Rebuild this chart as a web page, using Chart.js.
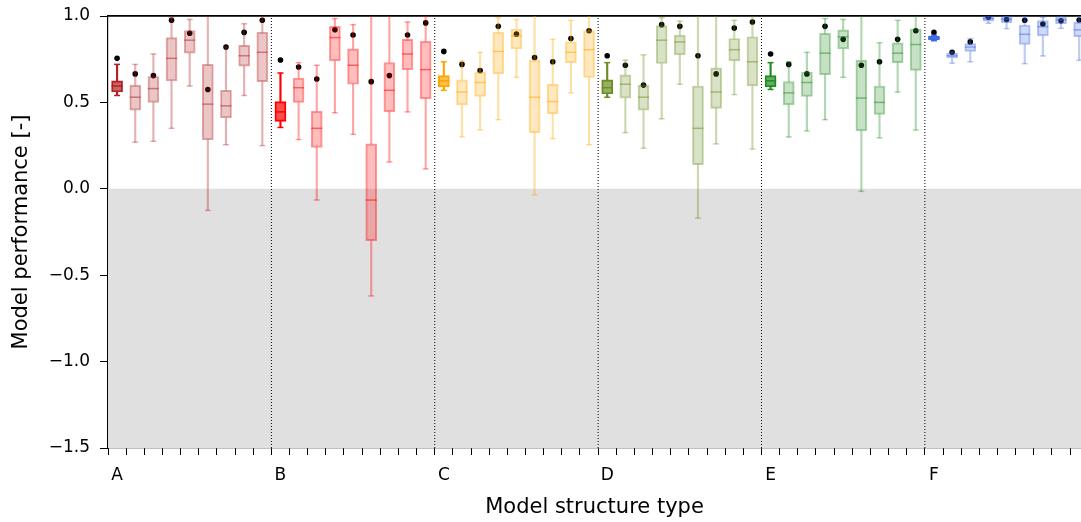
<!DOCTYPE html>
<html>
<head>
<meta charset="utf-8">
<script src="https://cdn.jsdelivr.net/npm/chart.js@4/dist/chart.umd.min.js"></script>
<style>
  html, body { margin: 0; padding: 0; background: #fff; }
  canvas { display: block; }
</style>
</head>
<body>
<canvas id="chart" width="1081" height="522"></canvas>
<script>
// ============================
// data (9 model runs per structure type)
const groups = ["A", "B", "C", "D", "E", "F"];
const perGroup = 9;
const groupColors = ["#b22222", "#ff0000", "#ffa500", "#6b8e23", "#228b22", "#4169e1"];

const whiskerLow = [
  0.54, 0.27, 0.275, 0.35, 0.595, -0.125, 0.255, 0.54, 0.25,    // A
  0.355, 0.285, -0.065, 0.44, 0.315, -0.62, 0.155, 0.445, 0.115, // B
  0.57, 0.30, 0.34, 0.40, 0.645, -0.035, 0.29, 0.555, 0.255,     // C
  0.53, 0.325, 0.235, 0.405, 0.605, -0.17, 0.26, 0.545, 0.23,    // D
  0.575, 0.30, 0.335, 0.40, 0.645, -0.015, 0.295, 0.56, 0.34,    // E
  0.857, 0.727, 0.735, 0.958, 0.927, 0.724, 0.769, 0.929, 0.744  // F
];
const q1 = [
  0.56, 0.455, 0.50, 0.625, 0.785, 0.285, 0.41, 0.71, 0.62,
  0.39, 0.50, 0.24, 0.74, 0.605, -0.30, 0.445, 0.69, 0.52,
  0.59, 0.485, 0.535, 0.665, 0.81, 0.325, 0.435, 0.73, 0.645,
  0.55, 0.525, 0.455, 0.725, 0.775, 0.14, 0.465, 0.74, 0.595,
  0.59, 0.485, 0.535, 0.66, 0.81, 0.335, 0.43, 0.73, 0.685,
  0.862, 0.757, 0.795, 0.97, 0.961, 0.836, 0.885, 0.956, 0.88
];
const median = [
  0.595, 0.53, 0.58, 0.755, 0.86, 0.49, 0.48, 0.77, 0.79,
  0.445, 0.585, 0.35, 0.875, 0.715, -0.065, 0.57, 0.78, 0.69,
  0.625, 0.56, 0.615, 0.795, 0.885, 0.53, 0.505, 0.79, 0.805,
  0.585, 0.605, 0.53, 0.86, 0.85, 0.35, 0.56, 0.805, 0.735,
  0.625, 0.555, 0.615, 0.785, 0.88, 0.525, 0.50, 0.785, 0.835,
  0.873, 0.77, 0.82, 0.985, 0.981, 0.894, 0.938, 0.977, 0.92
];
const q3 = [
  0.625, 0.60, 0.65, 0.875, 0.915, 0.72, 0.57, 0.83, 0.905,
  0.505, 0.64, 0.45, 0.94, 0.81, 0.26, 0.73, 0.865, 0.855,
  0.655, 0.63, 0.675, 0.905, 0.925, 0.745, 0.605, 0.85, 0.915,
  0.63, 0.66, 0.60, 0.945, 0.89, 0.595, 0.70, 0.87, 0.88,
  0.655, 0.62, 0.675, 0.90, 0.92, 0.745, 0.595, 0.845, 0.925,
  0.884, 0.786, 0.84, 0.997, 0.996, 0.947, 0.973, 0.994, 0.965
];
const whiskerHigh = [
  0.72, 0.72, 0.78, 0.99, 0.98, 1.05, 0.82, 0.955, 1.0,
  0.67, 0.73, 0.715, 0.985, 0.95, 1.05, 1.05, 0.965, 1.0,
  0.735, 0.74, 0.79, 0.99, 0.98, 1.05, 0.865, 0.975, 1.05,
  0.73, 0.745, 0.775, 0.99, 0.97, 1.05, 1.05, 0.975, 1.05,
  0.73, 0.735, 0.79, 0.985, 0.98, 1.05, 0.845, 0.975, 1.05,
  0.888, 0.792, 0.87, 1.0, 1.0, 0.996, 0.992, 1.0, 1.0
];
const calibrated = [
  0.755, 0.665, 0.655, 0.975, 0.90, 0.575, 0.82, 0.905, 0.975,
  0.745, 0.705, 0.635, 0.92, 0.89, 0.62, 0.655, 0.89, 0.96,
  0.795, 0.72, 0.685, 0.94, 0.895, 0.76, 0.735, 0.87, 0.915,
  0.77, 0.715, 0.60, 0.95, 0.94, 0.77, 0.665, 0.93, 0.965,
  0.78, 0.72, 0.665, 0.94, 0.865, 0.715, 0.735, 0.865, 0.915,
  0.905, 0.79, 0.85, 0.993, 0.98, 0.975, 0.953, 0.972, 0.977
];

const yTicks = [-1.5, -1.0, -0.5, 0.0, 0.5, 1.0];

// ============================
function rgba(hex, a) {
  const n = parseInt(hex.slice(1), 16);
  return `rgba(${(n >> 16) & 255},${(n >> 8) & 255},${n & 255},${a})`;
}

const idx = median.map((_, i) => i);
const isFirst = i => i % perGroup === 0;
const colOf = i => groupColors[Math.floor(i / perGroup)];

const boxFill = idx.map(i => rgba(colOf(i), isFirst(i) ? 0.7 : 0.26));
const boxEdge = idx.map(i => rgba(colOf(i), isFirst(i) ? 1 : 0.4));
const lineCol = idx.map(i => rgba(colOf(i), isFirst(i) ? 1 : 0.35));
const medCol = idx.map(i => rgba(colOf(i), isFirst(i) ? 1 : 0.5));

const xMin = -0.5;
const xMax = 53.1;

// ============================
const datasets = [];

// shaded area below zero
datasets.push({
  type: "line",
  data: [{ x: -1, y: 0 }, { x: 60, y: 0 }],
  fill: "start",
  backgroundColor: "#e0e0e0",
  borderWidth: 0,
  pointRadius: 0,
  order: 20
});

// group separators
for (let g = 1; g < groups.length; g++) {
  const xs = g * perGroup - 0.5;
  datasets.push({
    type: "line",
    data: [{ x: xs, y: -1.5 }, { x: xs, y: 1 }],
    borderColor: "#000",
    borderWidth: 1,
    borderDash: [1, 2],
    pointRadius: 0,
    order: 19
  });
}

// calibration dots (drawn below the boxes)
datasets.push({
  type: "scatter",
  data: idx.map(i => ({ x: i, y: calibrated[i] })),
  pointRadius: 2.8,
  pointBackgroundColor: "#000",
  pointBorderWidth: 0,
  order: 10
});

// whiskers
datasets.push({
  type: "bar",
  data: idx.map(i => ({ x: i, y: [whiskerLow[i], q1[i]] })),
  backgroundColor: lineCol,
  borderWidth: 0,
  barThickness: 1.5,
  grouped: false,
  order: 8
});
datasets.push({
  type: "bar",
  data: idx.map(i => ({ x: i, y: [q3[i], whiskerHigh[i]] })),
  backgroundColor: lineCol,
  borderWidth: 0,
  barThickness: 1.5,
  grouped: false,
  order: 8
});

// boxes
datasets.push({
  type: "bar",
  data: idx.map(i => ({ x: i, y: [q1[i], q3[i]] })),
  backgroundColor: boxFill,
  borderColor: boxEdge,
  borderWidth: 1.3,
  borderSkipped: false,
  barThickness: 11,
  grouped: false,
  order: 6
});

// whisker caps
[whiskerLow, whiskerHigh].forEach(arr => {
  datasets.push({
    type: "scatter",
    data: idx.map(i => ({ x: i, y: arr[i] })),
    pointStyle: "line",
    pointRadius: 3,
    pointBorderWidth: 1.5,
    pointBorderColor: lineCol,
    order: 4
  });
});

// medians
datasets.push({
  type: "scatter",
  data: idx.map(i => ({ x: i, y: median[i] })),
  pointStyle: "line",
  pointRadius: 5.5,
  pointBorderWidth: 1.5,
  pointBorderColor: medCol,
  order: 3
});

// ============================
Chart.defaults.font.family = "'DejaVu Sans', sans-serif";
Chart.defaults.color = "#000";

function noPad(s) {
  s.paddingLeft = 0;
  s.paddingRight = 0;
  s.paddingTop = 0;
  s.paddingBottom = 0;
}

new Chart(document.getElementById("chart"), {
  type: "bar",
  data: { datasets },
  options: {
    responsive: false,
    animation: false,
    events: [],
    layout: { padding: 0, autoPadding: false },
    plugins: {
      legend: { display: false },
      tooltip: { enabled: false }
    },
    scales: {
      x: {
        type: "linear",
        position: "bottom",
        min: xMin,
        max: xMax,
        offset: false,
        afterFit: s => { s.height = 74; noPad(s); },
        afterBuildTicks: s => { s.ticks = idx.map(i => ({ value: i })); },
        ticks: {
          autoSkip: false,
          maxRotation: 0,
          padding: 10,
          font: { size: 17 },
          callback: v => (v % perGroup === 0 ? groups[v / perGroup] : "")
        },
        grid: { drawOnChartArea: false, drawTicks: true, tickLength: 7, color: "#000", tickWidth: 1 },
        border: { display: true, color: "#000", width: 1.2 },
        title: {
          display: true,
          text: "Model structure type",
          font: { size: 21 },
          padding: { top: 0, bottom: 2 }
        }
      },
      xTop: {
        type: "linear",
        position: "top",
        min: xMin,
        max: xMax,
        afterFit: s => { s.height = 16; noPad(s); },
        ticks: { display: false },
        grid: { drawOnChartArea: false, drawTicks: false },
        border: { display: true, color: "#000", width: 1.8 }
      },
      y: {
        type: "linear",
        position: "left",
        min: -1.5,
        max: 1,
        afterFit: s => { s.width = 108; noPad(s); },
        afterBuildTicks: s => { s.ticks = yTicks.map(v => ({ value: v })); },
        ticks: {
          padding: 10,
          font: { size: 17 },
          callback: v => v.toFixed(1).replace("-", "\u2212")
        },
        grid: { drawOnChartArea: false, drawTicks: true, tickLength: 8, color: "#000" },
        border: { display: true, color: "#000", width: 1.2 },
        title: {
          display: true,
          text: "Model performance [-]",
          font: { size: 21 },
          padding: { top: 9, bottom: 0 }
        }
      }
    }
  }
});
</script>
</body>
</html>
